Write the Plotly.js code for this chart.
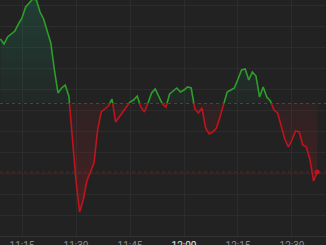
<!DOCTYPE html>
<html>
<head>
<meta charset="utf-8">
<script src="https://cdn.plot.ly/plotly-3.0.1.min.js"></script>
<style>
html,body{margin:0;padding:0;background:#222222;}
#chart{width:326px;height:245px;}
</style>
</head>
<body>
<div id="chart"></div>
<script>
// ---- data (percent change vs. previous close, 1-minute bars) ----
const day = "2024-01-02";
const times = [
  "11:09","11:10","11:11","11:12","11:13","11:14","11:15","11:16","11:17","11:18",
  "11:19","11:20","11:21","11:22","11:23","11:24","11:25","11:26","11:27","11:28",
  "11:29","11:30","11:31","11:32","11:33","11:34","11:35","11:36","11:37","11:38",
  "11:39","11:40","11:41","11:42","11:43","11:44","11:45","11:46","11:47","11:48",
  "11:49","11:50","11:51","11:52","11:53","11:54","11:55","11:56","11:57","11:58",
  "11:59","12:00","12:01","12:02","12:03","12:04","12:05","12:06","12:07","12:08",
  "12:09","12:10","12:11","12:12","12:13","12:14","12:15","12:16","12:17","12:18",
  "12:19","12:20","12:21","12:22","12:23","12:24","12:25","12:26","12:27","12:28",
  "12:29","12:30","12:31","12:32","12:33","12:34","12:35","12:36","12:37"
];
const changes = [
  1.28, 1.18, 1.32, 1.38, 1.44, 1.58, 1.70, 1.92, 2.00, 2.08,
  2.06, 1.82, 1.68, 1.42, 1.20, 0.66, 0.20, 0.30, 0.36, 0.14,
 -0.68,-1.56,-2.18,-1.94,-1.56,-1.38,-1.20,-0.54,-0.18,-0.12,
 -0.06, 0.08,-0.38,-0.28,-0.18,-0.10, 0.02, 0.06, 0.14,-0.08,
 -0.18, 0.00, 0.20, 0.28, 0.12,-0.02,-0.08, 0.18, 0.24, 0.30,
  0.22, 0.26, 0.32, 0.30,-0.12,-0.20,-0.10,-0.50,-0.62,-0.58,
 -0.50,-0.28,-0.02, 0.22, 0.26, 0.30, 0.48, 0.66, 0.68, 0.46,
  0.62, 0.54, 0.12, 0.32, 0.12, 0.04,-0.14,-0.20,-0.46,-0.72,
 -0.88,-0.74,-0.56,-0.58,-0.84,-0.88,-1.14,-1.56,-1.38
];
const tickTimes = ["11:15","11:30","11:45","12:00","12:15","12:30"];
const tickLabels = ["11:15","11:30","11:45","<span style=\"color:#e6e6e6\">12:00</span>","12:15","12:30"];
const viewStart = "11:08:53", viewEnd = "12:39:27";
const upperLimit = 2.06, lowerLimit = -2.66;

// ---- build ----
const xs = times.map(t => day + " " + t);
const lastX = xs[xs.length - 1];
const lastY = changes[changes.length - 1];
const split = (0 - lowerLimit) / (upperLimit - lowerLimit);

const green = "#2e9e2a", red = "#bf141c";

const traces = [
  {
    x: xs, y: changes, xaxis: "x", yaxis: "y", type: "scatter", mode: "lines",
    line: {color: green, width: 1.6, shape: "linear"},
    fill: "tozeroy",
    fillgradient: {type: "vertical", start: 0, stop: upperLimit,
      colorscale: [[0, "rgba(30,150,110,0.05)"], [1, "rgba(30,150,110,0.24)"]]},
    hoverinfo: "skip"
  },
  {
    x: xs, y: changes, xaxis: "x", yaxis: "y2", type: "scatter", mode: "lines",
    line: {color: red, width: 1.6, shape: "linear"},
    fill: "tozeroy",
    fillgradient: {type: "vertical", start: Math.min(...changes), stop: 0,
      colorscale: [[0, "rgba(200,30,40,0.22)"], [1, "rgba(200,30,40,0.07)"]]},
    hoverinfo: "skip"
  },
  {
    x: [lastX], y: [lastY], xaxis: "x", yaxis: "y2", type: "scatter", mode: "markers",
    marker: {color: red, size: 5}, hoverinfo: "skip"
  }
];

const gridC = "#2c2c2c";
const layout = {
  width: 326, height: 245,
  margin: {l: 0, r: 0, t: 0, b: 9, pad: 0},
  paper_bgcolor: "#222222", plot_bgcolor: "#222222",
  showlegend: false,
  xaxis: {
    type: "date", anchor: "y2",
    range: [day + " " + viewStart, day + " " + viewEnd],
    tickvals: tickTimes.map(t => day + " " + t),
    ticktext: tickLabels,
    showgrid: true, gridcolor: gridC, gridwidth: 1,
    showline: true, linecolor: "#333333", linewidth: 1,
    zeroline: false, ticks: "",
    tickfont: {family: "Roboto, 'Open Sans', sans-serif", size: 10, color: "#8a8a8a"}
  },
  yaxis: {
    domain: [split, 1], range: [0, upperLimit],
    tick0: -1.4, dtick: 0.42, showgrid: true, gridcolor: gridC,
    showticklabels: false, zeroline: false, ticks: "", showline: false
  },
  yaxis2: {
    domain: [0, split], range: [lowerLimit, 0],
    tick0: -1.4, dtick: 0.42, showgrid: true, gridcolor: gridC,
    showticklabels: false, zeroline: false, ticks: "", showline: false
  },
  shapes: [
    {type: "line", xref: "x", yref: "y2", x0: day + " " + viewStart, x1: day + " " + viewEnd,
     y0: 0, y1: 0, line: {color: "#4a4444", width: 2, dash: "dot"}, layer: "above"},
    {type: "line", xref: "x", yref: "y2", x0: day + " " + viewStart, x1: day + " " + viewEnd,
     y0: lastY, y1: lastY, line: {color: "rgba(160,35,35,0.5)", width: 1, dash: "dot"}, layer: "below"}
  ]
};

Plotly.newPlot("chart", traces, layout, {staticPlot: true, displayModeBar: false});
</script>
</body>
</html>
